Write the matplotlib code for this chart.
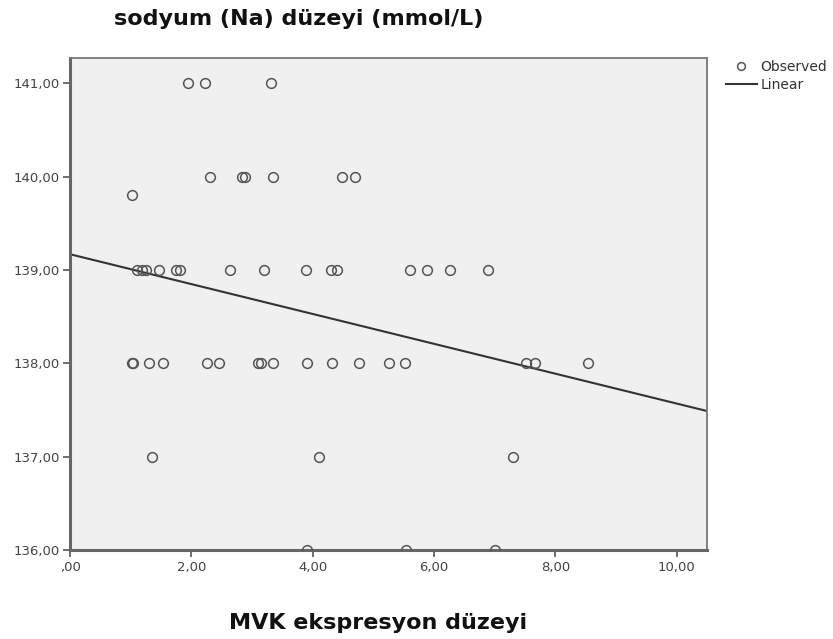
import matplotlib.pyplot as plt
import numpy as np
from matplotlib.ticker import FuncFormatter

# ── Data ──────────────────────────────────────────────────────────────────────
mvk = [
    1.95, 2.23, 3.31,                                   # 141
    2.31, 2.83, 2.88, 3.34, 4.49, 4.70,                 # 140
    1.03,                                               # 139.8
    1.10, 1.18, 1.26, 1.46, 1.75, 1.82, 2.64, 3.19,
    3.89, 4.30, 4.40, 5.61, 5.89, 6.27, 6.89,           # 139
    1.02, 1.04, 1.30, 1.54, 2.26, 2.46, 3.10, 3.15,
    3.35, 3.91, 4.32, 4.77, 5.26, 5.52, 7.51, 7.67, 8.53,  # 138
    1.35, 4.11, 7.30,                                   # 137
    3.91, 5.53, 7.00,                                   # 136
]
sodyum = (
    [141.0] * 3
    + [140.0] * 6
    + [139.8]
    + [139.0] * 15
    + [138.0] * 17
    + [137.0] * 3
    + [136.0] * 3
)
fit_x = [0.0, 10.5]
fit_y = [139.17, 137.49]

x_ticks = [0, 2, 4, 6, 8, 10]
y_ticks = [136, 137, 138, 139, 140, 141]


def comma_fmt(v, _pos):
    s = f"{v:.2f}".replace(".", ",")
    return s[1:] if s.startswith("0,") else s


# ── Figure ────────────────────────────────────────────────────────────────────
fig = plt.figure(figsize=(8.33, 6.39), dpi=100)
ax = fig.add_axes([0.084, 0.139, 0.765, 0.770])
ax.set_facecolor("#f0f0f0")

ax.plot(mvk, sodyum, linestyle="none", marker="o", ms=7, mfc="none",
        mec="#555555", mew=1.1, label="Observed", zorder=3)
ax.plot(fit_x, fit_y, color="#333333", lw=1.5, label="Linear", zorder=2)

ax.set_xlim(0, 10.5)
ax.set_ylim(136, 141.27)
ax.set_xticks(x_ticks)
ax.set_yticks(y_ticks)
ax.xaxis.set_major_formatter(FuncFormatter(comma_fmt))
ax.yaxis.set_major_formatter(FuncFormatter(comma_fmt))
ax.tick_params(axis="both", direction="out", length=5, width=1.2,
               color="#555555", labelsize=9.5, labelcolor="#444444", pad=2.5)

for side in ("left", "bottom"):
    ax.spines[side].set_color("#666666")
    ax.spines[side].set_linewidth(2.2)
for side in ("top", "right"):
    ax.spines[side].set_color("#777777")
    ax.spines[side].set_linewidth(1.3)

fig.text(0.358, 0.970, "sodyum (Na) düzeyi (mmol/L)", ha="center", va="center",
         fontsize=16, fontweight="bold", family="DejaVu Sans", color="#111111")
fig.text(0.454, 0.025, "MVK ekspresyon düzeyi", ha="center", va="center",
         fontsize=16, fontweight="bold", family="DejaVu Sans", color="#111111")

ax.legend(loc="upper left", bbox_to_anchor=(1.021, 1.008), frameon=False,
          fontsize=10, handlelength=2.2, handletextpad=0.25, labelspacing=0.3,
          borderaxespad=0.0, labelcolor="#333333", markerscale=0.8)

fig.savefig("out.png", dpi=100)
